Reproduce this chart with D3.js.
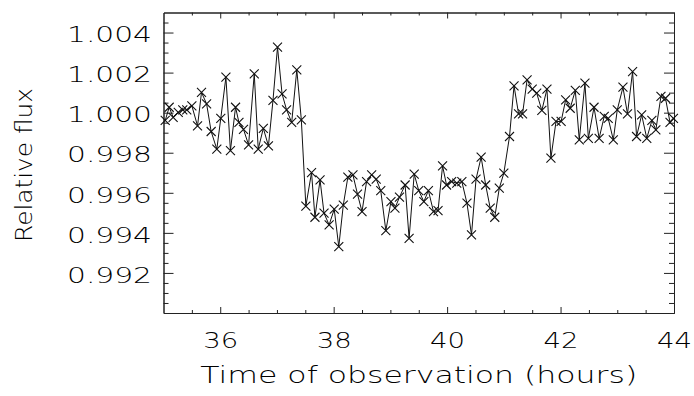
<!DOCTYPE html>
<html>
<head>
<meta charset="utf-8">
<script src="https://cdn.jsdelivr.net/npm/d3@7"></script>
<style>
  body { margin: 0; background: #fff; }
  text { font-family: "DejaVu Sans", sans-serif; font-weight: 200; fill: #000; }
</style>
</head>
<body>
<div id="chart"></div>
<script>
// observation time (hours) and relative flux
const times = [
  35.03, 35.10, 35.17, 35.26, 35.34, 35.41, 35.50, 35.60, 35.67, 35.76,
  35.84, 35.94, 36.01, 36.10, 36.18, 36.27, 36.33, 36.41, 36.50, 36.60,
  36.67, 36.76, 36.85, 36.93, 37.01, 37.09, 37.17, 37.26, 37.35, 37.43,
  37.51, 37.61, 37.67, 37.76, 37.83, 37.92, 38.01, 38.09, 38.17, 38.25,
  38.34, 38.42, 38.50, 38.58, 38.67, 38.75, 38.83, 38.92, 39.01, 39.08,
  39.16, 39.26, 39.33, 39.42, 39.50, 39.59, 39.67, 39.76, 39.84, 39.92,
  39.99, 40.08, 40.17, 40.26, 40.35, 40.43, 40.51, 40.60, 40.68, 40.76,
  40.84, 40.92, 41.00, 41.10, 41.18, 41.26, 41.33, 41.41, 41.50, 41.58,
  41.67, 41.76, 41.83, 41.92, 42.01, 42.09, 42.17, 42.26, 42.33, 42.43,
  42.49, 42.59, 42.68, 42.77, 42.84, 42.93, 43.00, 43.10, 43.18, 43.27,
  43.34, 43.43, 43.52, 43.61, 43.68, 43.77, 43.85, 43.93, 43.99
];
const flux = [
  0.99961, 1.00027, 0.99977, 1.00001, 1.00014, 1.00014, 1.00034, 0.99934, 1.00101, 1.00044,
  0.99906, 0.99818, 0.99972, 1.00177, 0.99811, 1.00027, 0.99951, 0.99917, 0.99839, 1.00194,
  0.99818, 0.99922, 0.99834, 1.00061, 1.00327, 1.00094, 1.00014, 0.99951, 1.00214, 0.99964,
  0.99534, 0.99701, 0.99478, 0.99664, 0.99498, 0.99440, 0.99518, 0.99331, 0.99539, 0.99678,
  0.99689, 0.99593, 0.99506, 0.99656, 0.99689, 0.99668, 0.99611, 0.99411, 0.99556, 0.99523,
  0.99578, 0.99639, 0.99373, 0.99693, 0.99611, 0.99556, 0.99611, 0.99506, 0.99511, 0.99734,
  0.99639, 0.99656, 0.99648, 0.99656, 0.99548, 0.99390, 0.99668, 0.99778, 0.99639, 0.99523,
  0.99478, 0.99623, 0.99698, 0.99881, 1.00134, 0.99994, 0.99994, 1.00164, 1.00117, 1.00097,
  1.00011, 1.00117, 0.99773, 0.99956, 0.99956, 1.00064, 1.00022, 1.00111, 0.99864, 1.00147,
  0.99872, 1.00027, 0.99872, 0.99981, 0.99972, 0.99864, 1.00014, 1.00127, 0.99994, 1.00205,
  0.99881, 0.99989, 0.99872, 0.99961, 0.99914, 1.00081, 1.00072, 0.99951, 0.99972
];

const xMajor = [36, 38, 40, 42, 44];
const xMinor = [35.5, 36.5, 37, 37.5, 38.5, 39, 39.5, 40.5, 41, 41.5, 42.5, 43, 43.5];
const yMajor = [0.992, 0.994, 0.996, 0.998, 1.000, 1.002, 1.004];
const yMinor = [0.9905, 0.991, 0.9915, 0.9925, 0.993, 0.9935, 0.9945, 0.995, 0.9955,
  0.9965, 0.997, 0.9975, 0.9985, 0.999, 0.9995, 1.0005, 1.001, 1.0015,
  1.0025, 1.003, 1.0035, 1.0045];

const W = 694, H = 396;
const margin = {top: 12.5, right: 20, bottom: 83, left: 163.5};
const w = W - margin.left - margin.right;
const h = H - margin.top - margin.bottom;

const svg = d3.select("#chart").append("svg")
    .attr("width", W)
    .attr("height", H);

const g = svg.append("g")
    .attr("transform", `translate(${margin.left},${margin.top})`);

const x = d3.scaleLinear().domain([35, 44]).range([0, w]);
const y = d3.scaleLinear().domain([0.990, 1.005]).range([h, 0]);

// axes: ticks point inward on all four sides (IDL style)
function styleAxis(sel) {
    sel.select(".domain").attr("stroke", "#222");
    sel.selectAll(".tick line").attr("stroke", "#222");
}

g.append("g").attr("transform", `translate(0,${h})`)
    .call(d3.axisBottom(x).tickValues(xMajor).tickFormat(d3.format("d"))
        .tickSizeInner(-6).tickSizeOuter(0).tickPadding(19.7))
    .call(styleAxis)
    .call(s => s.selectAll("text")
        .attr("font-size", "21.5px")
        .attr("textLength", 35)
        .attr("lengthAdjust", "spacingAndGlyphs"));

g.append("g").attr("transform", `translate(0,${h})`)
    .call(d3.axisBottom(x).tickValues(xMinor).tickFormat("").tickSizeInner(-3).tickSizeOuter(0))
    .call(styleAxis);

g.append("g")
    .call(d3.axisTop(x).tickValues(xMajor).tickFormat("").tickSizeInner(-6).tickSizeOuter(0))
    .call(styleAxis);
g.append("g")
    .call(d3.axisTop(x).tickValues(xMinor).tickFormat("").tickSizeInner(-3).tickSizeOuter(0))
    .call(styleAxis);

g.append("g")
    .call(d3.axisLeft(y).tickValues(yMajor).tickFormat(d3.format(".3f"))
        .tickSizeInner(-10).tickSizeOuter(0).tickPadding(11.5))
    .call(styleAxis)
    .call(s => s.selectAll("text")
        .attr("font-size", "21.5px")
        .attr("dy", "0.43em")
        .attr("textLength", 85)
        .attr("lengthAdjust", "spacingAndGlyphs"));

g.append("g")
    .call(d3.axisLeft(y).tickValues(yMinor).tickFormat("").tickSizeInner(-5).tickSizeOuter(0))
    .call(styleAxis);

g.append("g").attr("transform", `translate(${w},0)`)
    .call(d3.axisRight(y).tickValues(yMajor).tickFormat("").tickSizeInner(-10).tickSizeOuter(0))
    .call(styleAxis);
g.append("g").attr("transform", `translate(${w},0)`)
    .call(d3.axisRight(y).tickValues(yMinor).tickFormat("").tickSizeInner(-5).tickSizeOuter(0))
    .call(styleAxis);

// data line + X markers
const pts = times.map((t, i) => ({t: t, v: flux[i]}));

const line = d3.line()
    .x(d => x(d.t))
    .y(d => y(d.v));

g.append("path")
    .datum(pts)
    .attr("d", line)
    .attr("fill", "none")
    .attr("stroke", "#111")
    .attr("stroke-width", 1);

g.selectAll("path.mark")
    .data(pts)
    .enter()
    .append("path")
    .attr("class", "mark")
    .attr("transform", d => `translate(${x(d.t)},${y(d.v)})`)
    .attr("d", "M-4.5,-4.5L4.5,4.5M-4.5,4.5L4.5,-4.5")
    .attr("stroke", "#111")
    .attr("stroke-width", 1.1)
    .attr("fill", "none");

// titles
svg.append("text")
    .attr("x", margin.left + w / 2)
    .attr("y", 383)
    .attr("text-anchor", "middle")
    .attr("font-size", "23px")
    .attr("textLength", 437)
    .attr("lengthAdjust", "spacingAndGlyphs")
    .text("Time of observation (hours)");

svg.append("text")
    .attr("transform", "translate(32,165) rotate(-90)")
    .attr("text-anchor", "middle")
    .attr("font-size", "23px")
    .attr("textLength", 154)
    .attr("lengthAdjust", "spacingAndGlyphs")
    .text("Relative flux");
</script>
</body>
</html>
